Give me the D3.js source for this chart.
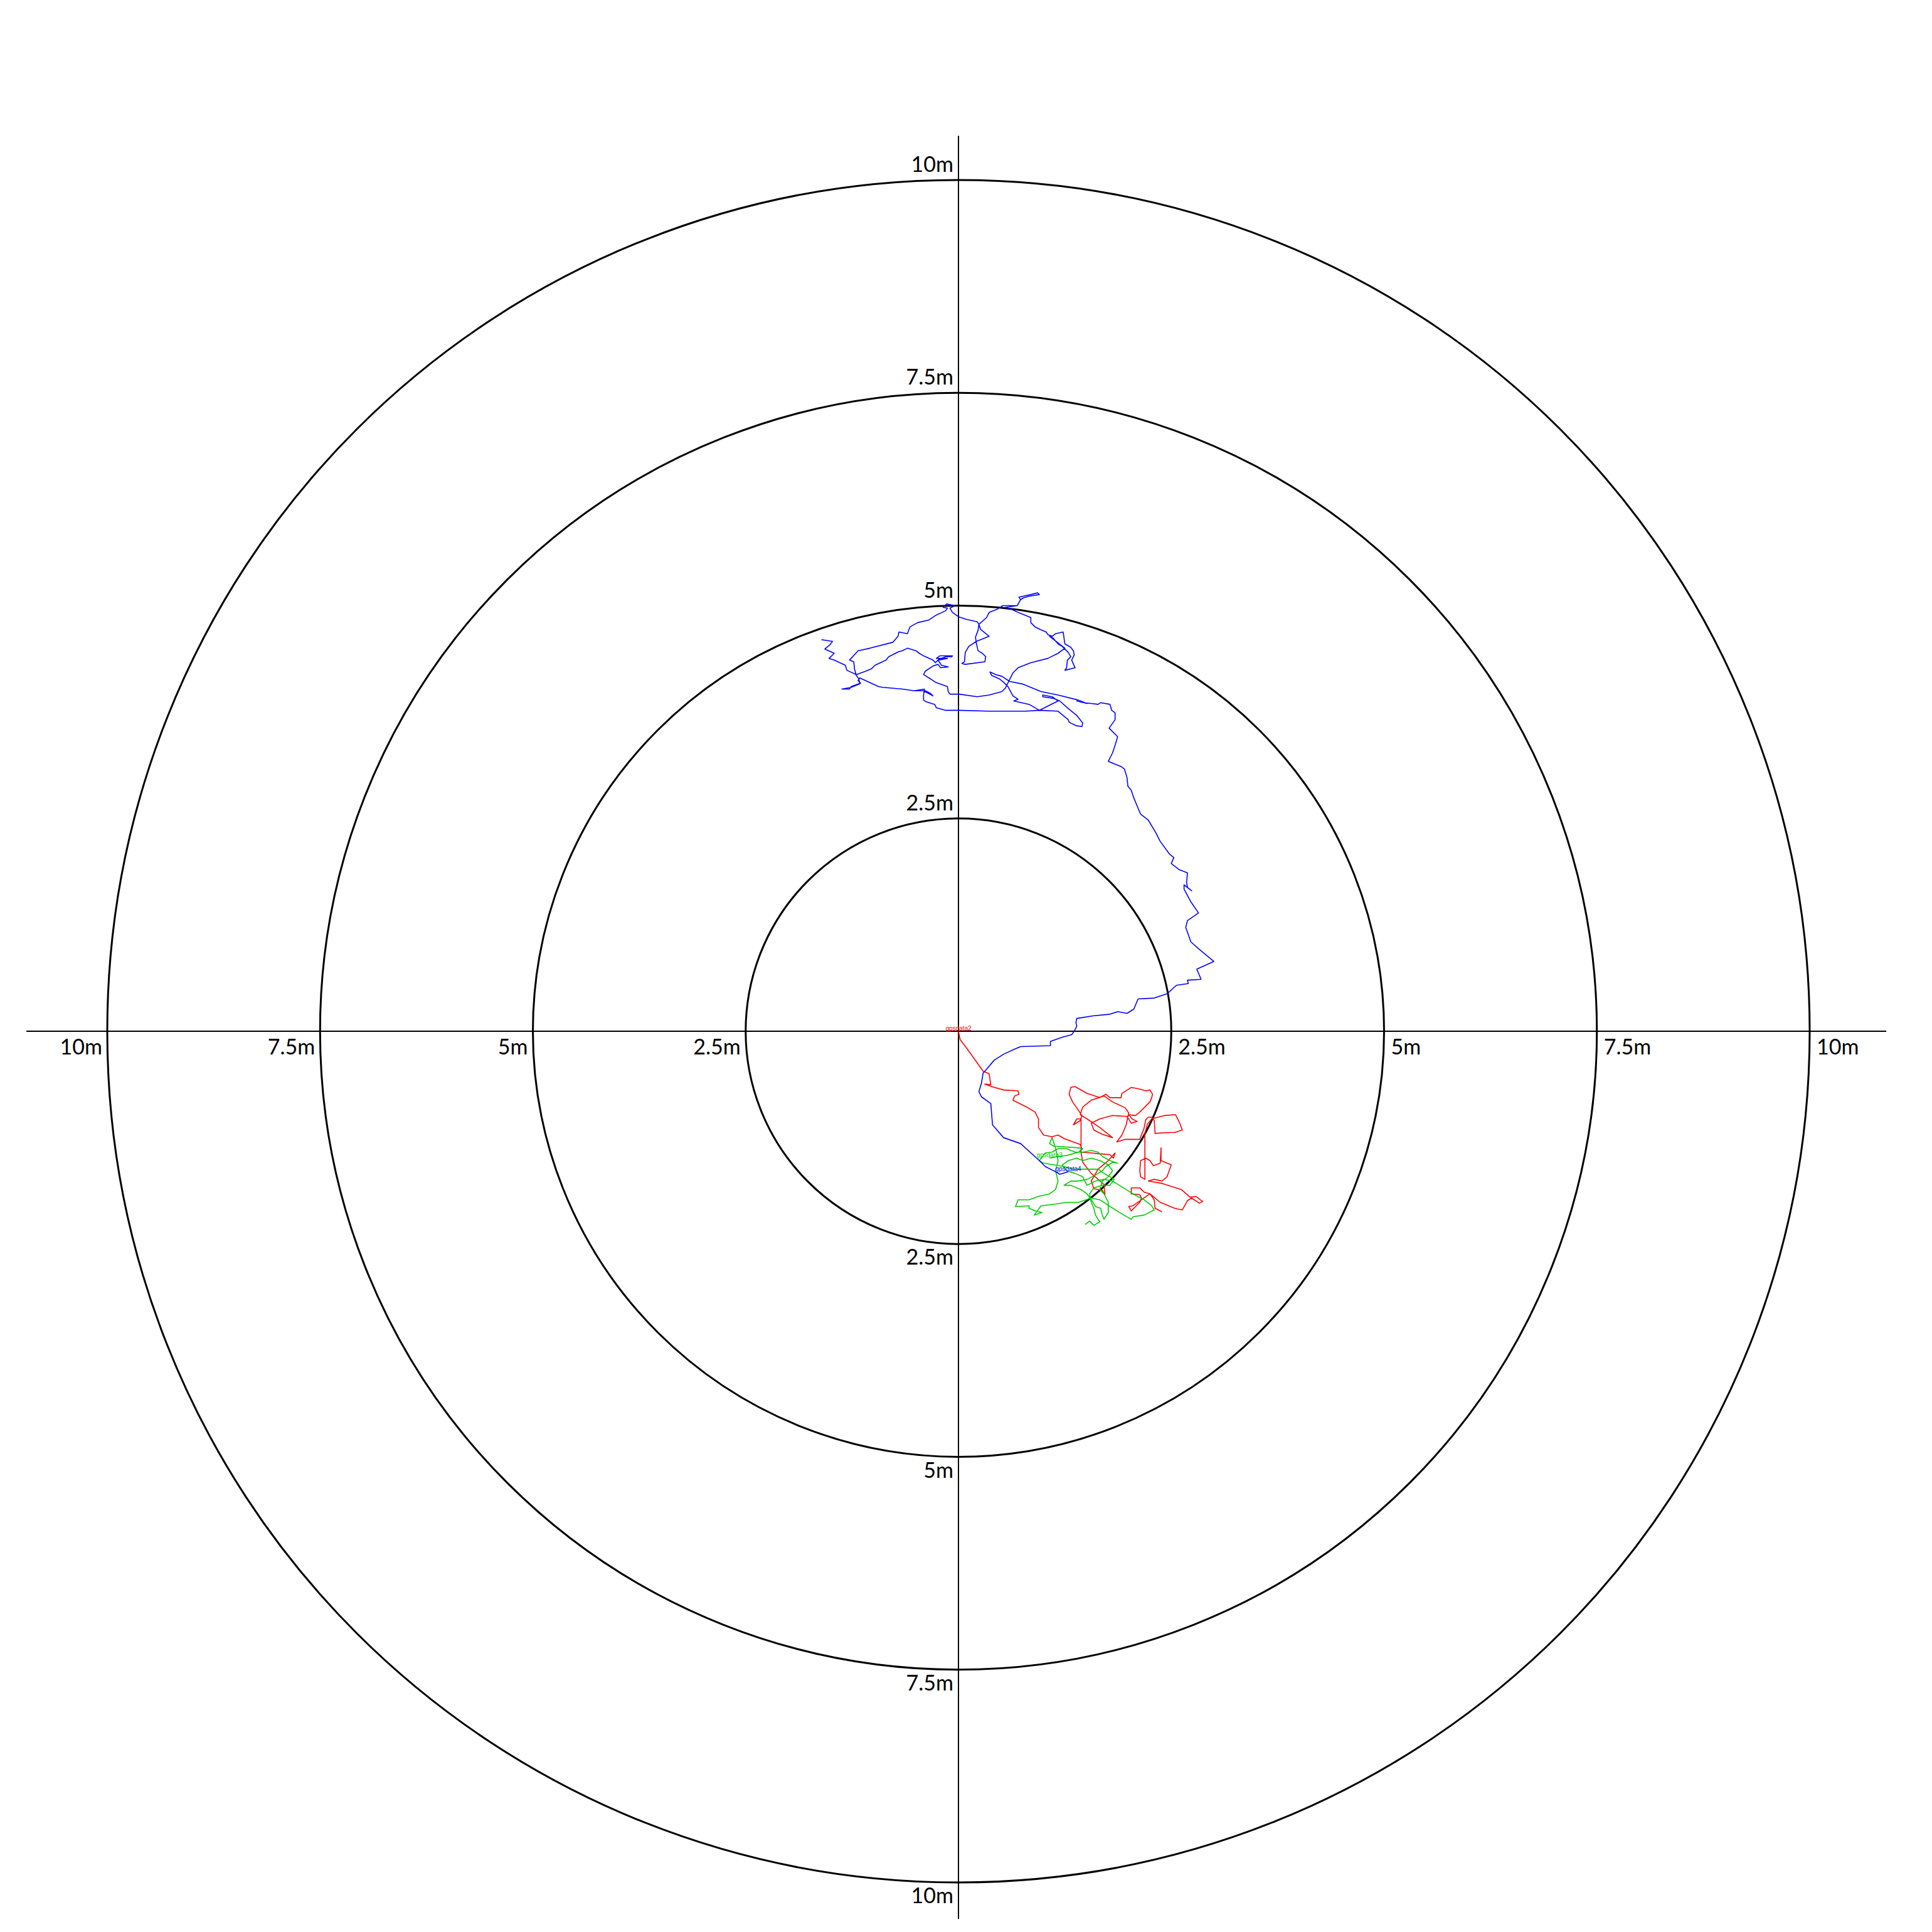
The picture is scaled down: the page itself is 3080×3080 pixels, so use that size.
<!DOCTYPE html>
<html><head><meta charset="utf-8">
<script src="https://cdn.jsdelivr.net/npm/d3@7"></script>
<style>html,body{margin:0;padding:0;background:#fff;} svg{display:block;}</style>
</head><body>
<script>
// ---- data (metres, east = +x, north = +y) ----
const ringValues = [2.5, 5, 7.5, 10];
const ringLabels = ["2.5m", "5m", "7.5m", "10m"];
const seriesNames = ["gpsdata2", "gpsdata3", "gpsdata4"];
const seriesColors = ["#ff0000", "#00cc00", "#0000ff"];

const gpsdata2 = [[0,0],[0.02,-0.10],[0.09,-0.19],[0.29,-0.47],[0.36,-0.50],[0.38,-0.63],[0.31,-0.62],[0.39,-0.65],[0.53,-0.69],[0.70,-0.70],[0.71,-0.74],[0.66,-0.76],[0.64,-0.81],[0.80,-0.89],[0.90,-0.95],[0.94,-1.03],[0.94,-1.13],[1.00,-1.22],[1.10,-1.24],[1.17,-1.22],[1.24,-1.26],[1.32,-1.29],[1.43,-1.33],[1.45,-1.38],[1.43,-1.42],
[1.56,-1.43],[1.66,-1.44],[1.78,-1.45],[1.82,-1.49],[1.84,-1.43],[1.76,-1.52],[1.64,-1.62],[1.56,-1.76],[1.59,-1.85],[1.69,-1.87],[1.72,-1.92],[1.71,-1.80],[1.56,-1.67],[1.46,-1.54],[1.44,-1.42],
[1.44,-1.22],[1.44,-1.03],[1.39,-1.03],[1.35,-1.10],[1.43,-1.05],[1.45,-0.99],[1.39,-0.90],[1.34,-0.83],[1.30,-0.74],[1.32,-0.66],[1.37,-0.65],[1.51,-0.73],[1.66,-0.78],[1.73,-0.74],[1.78,-0.78],[1.91,-0.78],[1.92,-0.73],[2.03,-0.66],[2.13,-0.68],[2.20,-0.70],[2.25,-0.69],[2.28,-0.74],[2.27,-0.78],[2.25,-0.83],[2.20,-0.88],[2.13,-0.95],[2.08,-0.99],[2.00,-0.98],[2.04,-1.03],[2.10,-1.06],[2.03,-1.08],[1.98,-1.00],[1.81,-0.99],[1.66,-1.03],[1.56,-1.08],[1.59,-1.16],[1.69,-1.21],[1.81,-1.25],[1.66,-1.13],[1.51,-1.03],[1.43,-0.98],[1.46,-0.89],[1.56,-0.81],[1.71,-0.76],[1.81,-0.83],[1.96,-0.90],[2.00,-0.96],[1.97,-1.10],[1.92,-1.22],[1.86,-1.30],[1.96,-1.27],[2.13,-1.27],[2.18,-1.14],[2.20,-1.04],[2.23,-1.01],[2.27,-1.01],[2.30,-1.05],[2.31,-1.20],[2.45,-1.19],[2.54,-1.19],[2.63,-1.16],[2.60,-1.08],[2.55,-0.98],[2.42,-0.99],[2.27,-1.03],[2.22,-1.09],[2.19,-1.20],[2.19,-1.42],[2.19,-1.62],[2.19,-1.74],[2.14,-1.71],[2.13,-1.64],[2.14,-1.52],[2.20,-1.49],[2.25,-1.52],[2.29,-1.58],[2.37,-1.55],[2.38,-1.37],[2.38,-1.52],[2.50,-1.57],[2.45,-1.71],[2.39,-1.76],[2.30,-1.74],[2.23,-1.76],[2.40,-1.79],[2.62,-1.86],[2.72,-1.95],[2.79,-1.94],[2.84,-1.98],[2.87,-2.00],[2.83,-2.02],[2.74,-1.96],[2.69,-1.99],[2.63,-2.10],[2.54,-2.08],[2.37,-2.01],[2.25,-1.91],[2.18,-1.89],[2.13,-1.84],[2.03,-1.84],[2.03,-1.91],[2.13,-1.92],[2.15,-1.96],[2.13,-2.01],[2.08,-2.06],[2.03,-2.11],[2.00,-2.06],[2.05,-2.05],[2.15,-1.98],[2.25,-1.91],[2.30,-1.98],[2.31,-2.08],[2.39,-2.12]];

const gpsdata3 = [[1.07,-1.49],[1.18,-1.47],[1.27,-1.46],[1.41,-1.42],[1.46,-1.38],[1.41,-1.37],[1.12,-1.35],[1.07,-1.32],[1.10,-1.25],[1.14,-1.37],[1.17,-1.52],[1.14,-1.64],[1.17,-1.76],[1.14,-1.86],[1.07,-1.91],[0.94,-1.94],[0.83,-1.98],[0.70,-1.98],[0.67,-2.06],[0.83,-2.05],[0.83,-2.08],[0.90,-2.11],[0.98,-2.13],[0.89,-2.16],[0.97,-2.05],[1.14,-2.03],[1.27,-2.01],[1.41,-2.01],[1.56,-1.96],[1.66,-1.98],[1.86,-2.11],[2.03,-2.21],[2.05,-2.18],[2.18,-2.16],[2.30,-2.10],[2.27,-2.05],[2.18,-1.98],[2.05,-1.91],[1.81,-1.76],[1.71,-1.74],[1.61,-1.76],[1.51,-1.81],[1.46,-1.71],[1.37,-1.67],[1.27,-1.64],[1.22,-1.57],[1.29,-1.52],[1.39,-1.49],[1.46,-1.52],[1.56,-1.49],[1.66,-1.52],[1.76,-1.57],[1.81,-1.64],[1.76,-1.71],[1.69,-1.76],[1.66,-1.86],[1.71,-1.91],[1.76,-2.01],[1.76,-2.13],[1.71,-2.21],[1.69,-2.16],[1.67,-2.08],[1.61,-2.06],[1.56,-1.98],[1.51,-1.91],[1.44,-1.86],[1.32,-1.81],[1.24,-1.81],[1.32,-1.76],[1.41,-1.76],[1.51,-1.74],[1.61,-1.69],[1.69,-1.64],[1.73,-1.59],[1.81,-1.54],[1.87,-1.55],[1.78,-1.52],[1.69,-1.47],[1.64,-1.42],[1.56,-1.40],[1.46,-1.42],[1.37,-1.42],[1.27,-1.38],[1.17,-1.38],[1.10,-1.42],[1.02,-1.43],[0.95,-1.52],[1.00,-1.55],[1.12,-1.57],[1.24,-1.59],[1.34,-1.62],[1.44,-1.62],[1.54,-1.62],[1.64,-1.62],[1.71,-1.67],[1.78,-1.71],[1.83,-1.74],[1.78,-1.81],[1.69,-1.81],[1.59,-1.84],[1.54,-1.91],[1.56,-2.01],[1.59,-2.08],[1.61,-2.16],[1.66,-2.24],[1.59,-2.28],[1.54,-2.23],[1.49,-2.27]];

const gpsdata4 = [[1.29,-1.65],[1.19,-1.68],[1.14,-1.65],[1.02,-1.59],[0.95,-1.52],[0.73,-1.32],[0.53,-1.25],[0.40,-1.10],[0.38,-0.85],[0.27,-0.77],[0.24,-0.71],[0.27,-0.61],[0.29,-0.49],[0.31,-0.47],[0.42,-0.34],[0.53,-0.27],[0.66,-0.21],[0.73,-0.18],[1.08,-0.17],[1.08,-0.12],[1.22,-0.07],[1.33,-0.04],
[1.36,0],[1.39,0.06],[1.38,0.10],[1.39,0.15],[1.58,0.18],[1.78,0.20],[1.87,0.23],[1.98,0.21],[2.06,0.26],[2.11,0.38],[2.30,0.39],[2.39,0.42],[2.45,0.44],[2.56,0.54],[2.70,0.56],[2.69,0.60],[2.85,0.61],[2.80,0.73],[3.00,0.82],[2.82,0.97],[2.73,1.05],[2.67,1.22],[2.69,1.30],[2.82,1.39],[2.73,1.52],[2.65,1.67],[2.65,1.72],[2.74,1.65],[2.69,1.69],[2.68,1.75],[2.69,1.86],[2.59,1.90],[2.50,1.97],[2.53,2.04],[2.48,2.08],[2.37,2.23],[2.32,2.33],[2.23,2.48],[2.14,2.55],[2.11,2.62],[2.06,2.74],[2.03,2.83],[1.99,2.88],[1.98,2.98],[1.95,3.08],[1.91,3.11],[1.76,3.17],[1.81,3.27],[1.84,3.36],[1.87,3.46],[1.77,3.56],[1.84,3.66],
[1.84,3.74],[1.80,3.77],[1.78,3.84],[1.67,3.86],[1.64,3.84],[1.56,3.85],[1.47,3.86],[1.39,3.88],[1.51,3.85],[1.41,3.89],[1.17,3.95],[0.97,3.99],[0.75,4.08],[0.60,4.11],[0.51,4.17],[0.44,4.19],[0.37,4.22],[0.39,4.18],[0.48,4.14],[0.53,4.10],[0.58,4.05],[0.64,3.94],[0.70,3.90],[0.65,3.88],[0.83,3.84],[0.95,3.77],[1.07,3.83],[1.17,3.88],[1.10,3.93],[0.99,3.95],[0.99,3.93],[1.12,3.91],[1.19,3.88],[1.28,3.80],[1.39,3.71],[1.46,3.62],[1.45,3.58],[1.38,3.59],[1.30,3.63],[1.29,3.66],[1.17,3.76],[0.95,3.77],[0.79,3.76],[0.36,3.76],[0.00,3.77],[-0.15,3.77],[-0.26,3.80],[-0.28,3.84],[-0.38,3.87],[-0.41,3.89],[-0.41,3.95],[-0.40,4.02],[-0.52,4.00],[-0.39,4.00],[-0.33,3.97],[-0.30,3.94],[-0.41,4.00],[-0.52,4.00],[-0.66,4.02],[-0.89,4.04],[-0.94,4.05],[-1.16,4.15],[-1.18,4.12],[-1.15,4.09],[-1.26,4.05],[-1.28,4.02],[-1.37,4.02],[-1.26,4.04],[-1.16,4.08],[-1.17,4.14],[-1.20,4.18],[-1.22,4.25],[-1.23,4.34],[-1.28,4.36],[-1.18,4.47],[-1.04,4.50],[-0.77,4.57],[-0.71,4.64],[-0.70,4.69],[-0.60,4.67],[-0.57,4.75],[-0.48,4.80],[-0.35,4.83],[-0.26,4.89],[-0.15,4.94],[-0.13,4.97],[-0.18,4.98],[-0.14,5.02],[-0.04,5.00],[-0.10,4.97],[-0.07,4.92],[0.00,4.87],[0.09,4.84],[0.22,4.81],[0.24,4.78],[0.26,4.72],[0.36,4.64],[0.21,4.58],[0.12,4.52],[0.08,4.45],[0.07,4.34],[0.04,4.32],[0.08,4.31],[0.31,4.34],[0.32,4.40],[0.28,4.44],[0.23,4.47],[0.21,4.56],[0.20,4.63],[0.23,4.71],[0.24,4.78],[0.33,4.86],[0.36,4.92],[0.46,4.96],[0.52,5.00],[0.69,5.00],[0.73,5.07],[0.71,5.10],[0.85,5.13],[0.93,5.15],[0.95,5.13],[0.83,5.11],[0.76,5.09],[0.73,5.07],[0.69,5.00],[0.55,4.98],[0.62,4.96],[0.70,4.92],[0.85,4.86],[0.85,4.80],[0.90,4.75],[0.96,4.72],[1.03,4.69],[1.05,4.66],[1.10,4.64],[1.14,4.67],[1.23,4.69],[1.24,4.62],[1.25,4.55],[1.32,4.51],[1.35,4.47],[1.36,4.42],[1.33,4.36],[1.37,4.27],[1.25,4.24],[1.27,4.27],[1.28,4.36],[1.32,4.40],[1.29,4.45],[1.22,4.52],[1.17,4.55],[1.11,4.62],[1.07,4.64],[1.25,4.50],[1.17,4.44],[1.05,4.38],[0.85,4.33],[0.70,4.27],[0.64,4.21],[0.60,4.13],[0.55,4.03],[0.51,3.99],[0.36,3.95],[0.22,3.93],[0.01,3.96],[-0.10,3.96],[-0.12,3.99],[-0.13,4.05],[-0.27,4.10],[-0.33,4.14],[-0.41,4.19],[-0.39,4.23],[-0.30,4.29],[-0.24,4.31],[-0.21,4.27],[-0.12,4.28],[-0.20,4.30],[-0.24,4.36],[-0.13,4.38],[-0.26,4.38],[-0.22,4.41],[-0.07,4.41],[-0.08,4.40],[-0.15,4.40],[-0.23,4.37],[-0.27,4.33],[-0.30,4.36],[-0.41,4.41],[-0.46,4.44],[-0.50,4.47],[-0.60,4.50],[-0.66,4.47],[-0.70,4.46],[-0.82,4.40],[-0.85,4.36],[-0.98,4.30],[-1.02,4.26],[-1.09,4.23],[-1.20,4.19],[-1.31,4.24],[-1.33,4.30],[-1.46,4.36],[-1.52,4.38],[-1.46,4.44],[-1.57,4.49],[-1.51,4.54],[-1.48,4.58],[-1.61,4.60]];

const seriesData = [gpsdata2, gpsdata3, gpsdata4];

// ---- layout ----
const W = 3080, H = 3080;
const cx = 1528, cy = 1644, R = 1357;
const x = d3.scaleLinear().domain([-10, 10]).range([cx - R, cx + R]);
const y = d3.scaleLinear().domain([-10, 10]).range([cy + R, cy - R]);

const svg = d3.select("body").append("svg").attr("width", W).attr("height", H);
svg.append("rect").attr("width", W).attr("height", H).attr("fill", "#fff");

// axes lines
svg.append("line").attr("x1", x(-10.95)).attr("x2", x(10.9)).attr("y1", y(0)).attr("y2", y(0))
  .attr("stroke", "#000").attr("stroke-width", 2);
svg.append("line").attr("x1", x(0)).attr("x2", x(0)).attr("y1", y(10.52)).attr("y2", y(-10.43))
  .attr("stroke", "#000").attr("stroke-width", 2);

// rings
svg.selectAll("circle.ring").data(ringValues).join("circle")
  .attr("class", "ring")
  .attr("cx", x(0)).attr("cy", y(0))
  .attr("r", d => x(d) - x(0))
  .attr("fill", "none").attr("stroke", "#000").attr("stroke-width", 3);

// ring labels
const lab = svg.append("g").attr("font-family", "Lato, 'Open Sans', sans-serif")
  .attr("font-size", 34).attr("fill", "#000");
ringValues.forEach((v, i) => {
  const t = ringLabels[i];
  lab.append("text").attr("x", x(0) - 8).attr("y", y(v) - 13).attr("text-anchor", "end").text(t);
  lab.append("text").attr("x", x(0) - 8).attr("y", y(-v) + 33).attr("text-anchor", "end").text(t);
  lab.append("text").attr("x", x(-v) - 8).attr("y", y(0) + 37).attr("text-anchor", "end").text(t);
  lab.append("text").attr("x", x(v) + 11).attr("y", y(0) + 37).attr("text-anchor", "start").text(t);
});

// tracks
const line = d3.line().x(d => x(d[0])).y(d => y(d[1]));
seriesData.forEach((data, i) => {
  svg.append("path").attr("d", line(data)).attr("fill", "none")
    .attr("stroke", seriesColors[i]).attr("stroke-width", 1.6)
    .attr("stroke-linejoin", "round");
});
seriesData.forEach((data, i) => {
  svg.append("text").attr("x", x(data[0][0])).attr("y", y(data[0][1]) - 1)
    .attr("text-anchor", "middle").attr("font-family", "'Liberation Sans', Arial, sans-serif")
    .attr("font-size", 10).attr("fill", seriesColors[i]).text(seriesNames[i]);
});
</script>
</body></html>
